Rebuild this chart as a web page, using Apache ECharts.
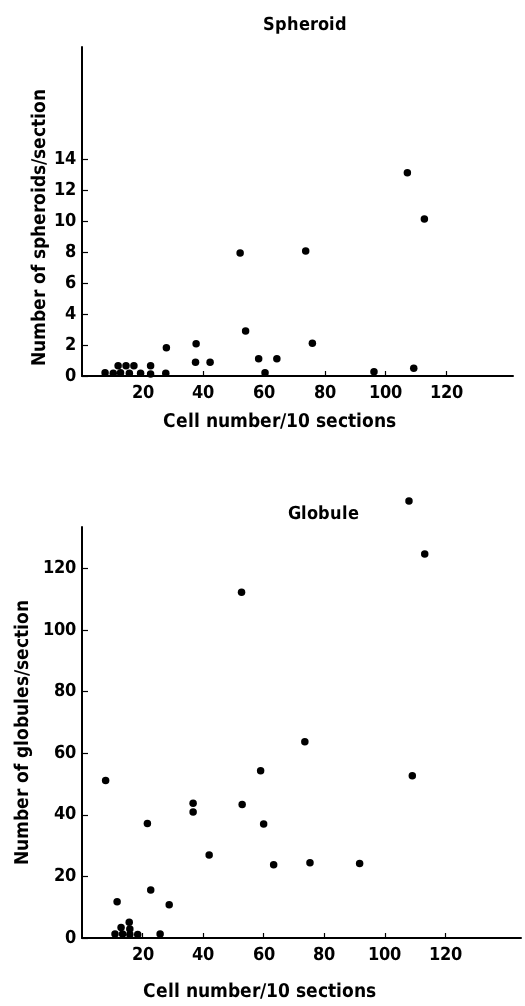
<!DOCTYPE html>
<html>
<head>
<meta charset="utf-8">
<script src="https://cdn.jsdelivr.net/npm/echarts@6/dist/echarts.min.js"></script>
<style>
@font-face { font-family: 'CondB'; font-weight: bold;
  src: local('Liberation Sans Narrow Bold'), local('LiberationSansNarrow-Bold'),
       local('DejaVu Sans Condensed Bold'), local('DejaVuSansCondensed-Bold'); }
@font-face { font-family: 'CondB'; font-weight: normal;
  src: local('Liberation Sans Narrow Bold'), local('LiberationSansNarrow-Bold'),
       local('DejaVu Sans Condensed Bold'), local('DejaVuSansCondensed-Bold'); }
html,body{margin:0;padding:0;background:#fff;}
#chart{width:525px;height:1006px;}
</style>
</head>
<body>
<div id="chart"></div>
<script>
// ---- data ----
const spheroidX = [7.6,10.3,11.9,12.7,14.5,15.6,17.1,19.3,22.6,22.6,27.6,27.8,37.4,37.6,42.2,52.1,53.9,58.2,60.3,64.2,73.7,75.9,96.2,107.2,109.3,112.8];
const spheroidY = [0.21,0.17,0.67,0.21,0.67,0.17,0.67,0.17,0.67,0.13,0.17,1.83,0.89,2.09,0.89,7.95,2.91,1.12,0.21,1.12,8.07,2.11,0.28,13.13,0.5,10.14];
const globuleX = [7.8,10.9,11.6,12.9,13.4,15.6,15.8,15.8,18.4,21.6,22.7,25.8,28.8,36.7,36.7,42.0,52.7,52.9,59.0,60.0,63.3,73.6,75.3,91.7,108.0,109.1,113.2];
const globuleY = [51.1,1.3,11.8,3.4,1.3,5.1,2.9,1.1,1.1,37.2,15.6,1.3,10.8,43.7,40.9,26.9,112.2,43.3,54.3,37.0,23.8,63.7,24.4,24.2,141.8,52.7,124.6];
const xTicks = [20,40,60,80,100,120];
const spheroidYTicks = [0,2,4,6,8,10,12,14];
const globuleYTicks = [0,20,40,60,80,100,120];
const titles = ['Spheroid','Globule'];
const xName = 'Cell number/10 sections';
const yNames = ['Number of spheroids/section','Number of globules/section'];

const FONT = "CondB,'DejaVu Sans Condensed','Liberation Sans Narrow',sans-serif";
const pair = (xs, ys) => xs.map((x, i) => [x, ys[i]]);

function xAxis(gridIndex, max, pad, gap) {
  return {
    type: 'value', gridIndex: gridIndex, min: 0, max: max,
    name: xName, nameLocation: 'middle', nameGap: gap, nameMoveOverlap: false,
    nameTextStyle: {color:'#000', fontFamily: FONT, fontWeight:'bold', fontSize: 19, padding:[0,pad,0,0]},
    axisLine: {show:true, onZero:false, lineStyle:{color:'#000', width:2}},
    axisTick: {show:true, inside:true, length:5, customValues: xTicks, lineStyle:{color:'#000', width:1.2}},
    axisLabel: {customValues: xTicks, color:'#000', fontFamily: FONT, fontWeight:'bold', fontSize: 18, margin: 8},
    splitLine: {show:false}
  };
}
function yAxis(gridIndex, max, ticks, gap, pad) {
  return {
    type: 'value', gridIndex: gridIndex, min: 0, max: max,
    name: yNames[gridIndex], nameLocation: 'middle', nameGap: gap, nameRotate: 90, nameMoveOverlap: false,
    nameTextStyle: {color:'#000', fontFamily: FONT, fontWeight:'bold', fontSize: 19, padding: pad},
    axisLine: {show:true, onZero:false, lineStyle:{color:'#000', width:2}},
    axisTick: {show:true, inside:true, length:6, customValues: ticks, lineStyle:{color:'#000', width:1.2}},
    axisLabel: {customValues: ticks, color:'#000', fontFamily: FONT, fontWeight:'bold', fontSize: 18, margin: 6},
    splitLine: {show:false}
  };
}

function render() {
  const chart = echarts.init(document.getElementById('chart'), null, {renderer:'canvas'});
  chart.setOption({
    backgroundColor: '#fff',
    animation: false,
    title: [
      {text: titles[0], left: 300, top: 11, textAlign:'center',
       textStyle:{color:'#000', fontFamily: FONT, fontWeight:'bold', fontSize: 18}},
      {text: titles[1], left: 318, top: 500, textAlign:'center',
       textStyle:{color:'#000', fontFamily: FONT, fontWeight:'bold', fontSize: 18}}
    ],
    grid: [
      {left: 82, top: 47, width: 431, height: 329, outerBoundsMode: 'none', containLabel: false},
      {left: 82, top: 527, width: 439, height: 411, outerBoundsMode: 'none', containLabel: false}
    ],
    xAxis: [xAxis(0, 142, 36, 37), xAxis(1, 145, 84, 45)],
    yAxis: [
      yAxis(0, 21.25, spheroidYTicks, 32, [0,32,0,0]),
      yAxis(1, 133.4, globuleYTicks, 49, [0,0,0,0])
    ],
    series: [
      {type:'scatter', xAxisIndex:0, yAxisIndex:0, data: pair(spheroidX, spheroidY),
       symbolSize: 7.5, itemStyle:{color:'#000', opacity:1}, clip:false},
      {type:'scatter', xAxisIndex:1, yAxisIndex:1, data: pair(globuleX, globuleY),
       symbolSize: 7.5, itemStyle:{color:'#000', opacity:1}, clip:false}
    ]
  });
}
let done = false;
function go(){ if (!done) { done = true; render(); } }
if (document.fonts && document.fonts.load) {
  document.fonts.load("bold 18px CondB").then(go, go);
  setTimeout(go, 1500);
} else { go(); }
</script>
</body>
</html>
